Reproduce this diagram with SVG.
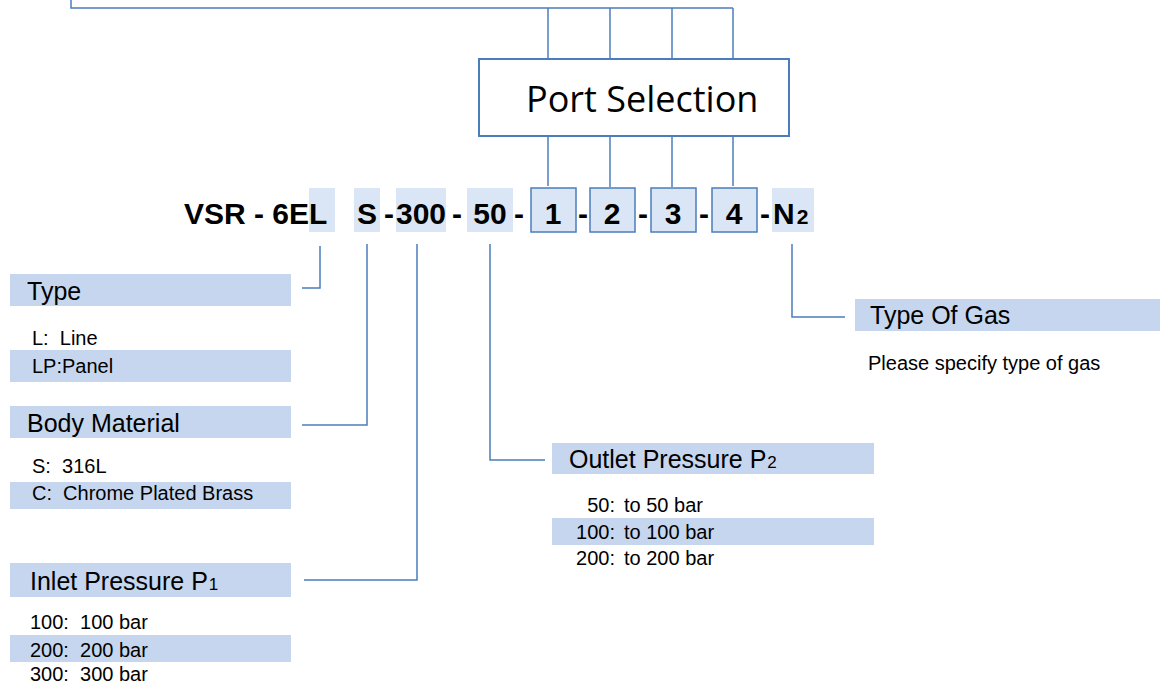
<svg xmlns="http://www.w3.org/2000/svg" width="1160" height="686" viewBox="0 0 1160 686">
<style>
.ln{fill:none;stroke:#4a7ebb;stroke-width:1.5}
.hl{fill:#dae6f5}
.pb{fill:#dae6f5;stroke:#4a7ebb;stroke-width:1.5}
.lab{fill:#c5d6ee}
text{white-space:pre}
.code{font-family:"Liberation Sans",Arial,sans-serif;font-weight:bold;font-size:30px;fill:#000}
.h{font-family:"Liberation Sans",Arial,sans-serif;font-size:25px;fill:#000}
.t{font-family:"Liberation Sans",Arial,sans-serif;font-size:20px;fill:#000}
.sub{font-size:17px}
</style>
<rect width="1160" height="686" fill="#fff"/>
<g id="connectors">
<polyline class="ln" points="71,0 71,8 733,8"/>
<line class="ln" x1="548" y1="8" x2="548" y2="59"/>
<line class="ln" x1="610" y1="8" x2="610" y2="59"/>
<line class="ln" x1="672" y1="8" x2="672" y2="59"/>
<line class="ln" x1="733" y1="8" x2="733" y2="59"/>
<line class="ln" x1="548" y1="136" x2="548" y2="186"/>
<line class="ln" x1="610" y1="136" x2="610" y2="187"/>
<line class="ln" x1="672" y1="136" x2="672" y2="187"/>
<line class="ln" x1="733" y1="136" x2="733" y2="186"/>
<polyline class="ln" points="320,246 320,288 302,288"/>
<polyline class="ln" points="367,244 367,425 302,425"/>
<polyline class="ln" points="417,244 417,580 304,580"/>
<polyline class="ln" points="490,244 490,460 545,460"/>
<polyline class="ln" points="792,244 792,317 845,317"/>
</g>
<g id="port-selection">
<rect x="479" y="59" width="310" height="77" fill="#fff" stroke="#4a7ebb" stroke-width="2"/>
<text x="526" y="112" font-family="'Open Sans','Noto Sans',sans-serif" font-size="36" fill="#000">Port Selection</text>
</g>
<g id="code">
<rect class="hl" x="309" y="188" width="26" height="44"/>
<rect class="hl" x="354" y="188" width="26" height="44"/>
<rect class="hl" x="396" y="188" width="50" height="44"/>
<rect class="hl" x="467" y="188" width="46" height="44"/>
<rect class="pb" x="531" y="188" width="45" height="44"/>
<rect class="pb" x="590" y="188" width="45" height="44"/>
<rect class="pb" x="651" y="188" width="45" height="44"/>
<rect class="pb" x="712" y="188" width="45" height="44"/>
<rect class="hl" x="772" y="188" width="42" height="44"/>
<text class="code" x="184" y="224">VSR - 6EL</text>
<text class="code" x="367" y="224" text-anchor="middle">S</text>
<text class="code" x="384" y="224">-</text>
<text class="code" x="421" y="224" text-anchor="middle">300</text>
<text class="code" x="452" y="224">-</text>
<text class="code" x="490" y="224" text-anchor="middle">50</text>
<text class="code" x="514" y="224">-</text>
<text class="code" x="553" y="224" text-anchor="middle">1</text>
<text class="code" x="578" y="224">-</text>
<text class="code" x="612" y="224" text-anchor="middle">2</text>
<text class="code" x="638" y="224">-</text>
<text class="code" x="673" y="224" text-anchor="middle">3</text>
<text class="code" x="699" y="224">-</text>
<text class="code" x="734" y="224" text-anchor="middle">4</text>
<text class="code" x="760" y="224">-</text>
<text class="code" x="773" y="224">N<tspan font-size="21" dx="2">2</tspan></text>
</g>
<g id="type">
<rect class="lab" x="10" y="274" width="281" height="32"/>
<text class="h" x="27" y="300">Type</text>
<text class="t" x="32" y="345">L:  Line</text>
<rect class="lab" x="10" y="350" width="281" height="32"/>
<text class="t" x="32" y="373">LP:Panel</text>
</g>
<g id="body-material">
<rect class="lab" x="10" y="406" width="281" height="32"/>
<text class="h" x="27" y="432">Body Material</text>
<text class="t" x="32" y="473">S:  316L</text>
<rect class="lab" x="10" y="482" width="281" height="27"/>
<text class="t" x="32" y="500">C:  Chrome Plated Brass</text>
</g>
<g id="inlet-pressure">
<rect class="lab" x="10" y="563" width="281" height="34"/>
<text class="h" x="30" y="590">Inlet Pressure P<tspan class="sub" dx="1">1</tspan></text>
<text class="t" x="30" y="629">100:  100 bar</text>
<rect class="lab" x="10" y="635" width="281" height="27"/>
<text class="t" x="30" y="657">200:  200 bar</text>
<text class="t" x="30" y="681">300:  300 bar</text>
</g>
<g id="outlet-pressure">
<rect class="lab" x="552" y="443" width="322" height="31"/>
<text class="h" x="569" y="468">Outlet Pressure P<tspan class="sub" dx="1">2</tspan></text>
<text class="t" x="615" y="512" text-anchor="end">50:</text>
<text class="t" x="624" y="512">to 50 bar</text>
<rect class="lab" x="552" y="518" width="322" height="27"/>
<text class="t" x="615" y="539" text-anchor="end">100:</text>
<text class="t" x="624" y="539">to 100 bar</text>
<text class="t" x="615" y="565" text-anchor="end">200:</text>
<text class="t" x="624" y="565">to 200 bar</text>
</g>
<g id="type-of-gas">
<rect class="lab" x="855" y="299" width="305" height="32"/>
<text class="h" x="870" y="324">Type Of Gas</text>
<text class="t" x="868" y="370">Please specify type of gas</text>
</g>
</svg>
